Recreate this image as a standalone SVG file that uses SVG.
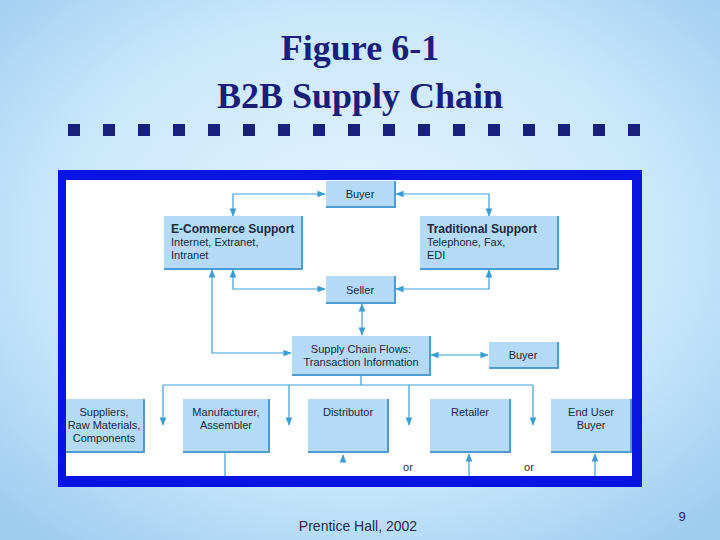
<svg xmlns="http://www.w3.org/2000/svg" width="720" height="540" viewBox="0 0 720 540">
<defs>
<radialGradient id="bg" cx="50%" cy="45%" r="70%"><stop offset="0" stop-color="#e4f4ff"/><stop offset="0.6" stop-color="#cbe8fb"/><stop offset="1" stop-color="#9fcdf0"/></radialGradient>
<marker id="ah" viewBox="0 0 10 10" refX="9" refY="5" markerWidth="7" markerHeight="7" orient="auto-start-reverse"><path d="M0,1 L10,5 L0,9 z" fill="#3a9ed4"/></marker>
<style>
.b{fill:#b5daf6;stroke:#5da4d6;stroke-width:0}
.sh{fill:none;stroke:#4f9bd0;stroke-width:2}
.t{font-family:"Liberation Sans",Arial,sans-serif;font-size:11px;fill:#1a2a40}
.tb{font-family:"Liberation Sans",Arial,sans-serif;font-size:12px;font-weight:bold;fill:#1a2a40}
.c{fill:none;stroke:#3a9ed4;stroke-width:1.2}
.sq{fill:#17207a}
</style>
</defs>
<rect width="720" height="540" fill="url(#bg)"/>
<g id="title" font-family="Liberation Serif,Times New Roman,serif" font-weight="bold" font-size="36" fill="#1a1f7a" text-anchor="middle">
<text x="360" y="60">Figure 6-1</text>
<text x="360" y="108">B2B Supply Chain</text>
</g>
<g id="squares">
<rect class="sq" x="68" y="124" width="12" height="12"/><rect class="sq" x="103" y="124" width="12" height="12"/><rect class="sq" x="138" y="124" width="12" height="12"/><rect class="sq" x="173" y="124" width="12" height="12"/><rect class="sq" x="208" y="124" width="12" height="12"/><rect class="sq" x="243" y="124" width="12" height="12"/><rect class="sq" x="278" y="124" width="12" height="12"/><rect class="sq" x="313" y="124" width="12" height="12"/><rect class="sq" x="348" y="124" width="12" height="12"/><rect class="sq" x="383" y="124" width="12" height="12"/><rect class="sq" x="418" y="124" width="12" height="12"/><rect class="sq" x="453" y="124" width="12" height="12"/><rect class="sq" x="488" y="124" width="12" height="12"/><rect class="sq" x="523" y="124" width="12" height="12"/><rect class="sq" x="558" y="124" width="12" height="12"/><rect class="sq" x="593" y="124" width="12" height="12"/><rect class="sq" x="628" y="124" width="12" height="12"/>
</g>
<rect x="58" y="170" width="584" height="317" fill="#0a14e0"/>
<rect x="66" y="180" width="566" height="296" fill="#ffffff"/>
<g id="connectors">
<path class="c" d="M233,216 V194 H325" marker-start="url(#ah)" marker-end="url(#ah)"/>
<path class="c" d="M396,194 H489 V216" marker-start="url(#ah)" marker-end="url(#ah)"/>
<path class="c" d="M233,270 V289 H325" marker-start="url(#ah)" marker-end="url(#ah)"/>
<path class="c" d="M396,289 H489 V270" marker-start="url(#ah)" marker-end="url(#ah)"/>
<path class="c" d="M362,304 V335" marker-start="url(#ah)" marker-end="url(#ah)"/>
<path class="c" d="M212,270 V353 H291" marker-start="url(#ah)" marker-end="url(#ah)"/>
<path class="c" d="M431,355 H488" marker-start="url(#ah)" marker-end="url(#ah)"/>
<path class="c" d="M361,376 V385 M163,385 H533"/>
<path class="c" d="M163,385 V425" marker-end="url(#ah)"/>
<path class="c" d="M289,385 V425" marker-end="url(#ah)"/>
<path class="c" d="M409,385 V425" marker-end="url(#ah)"/>
<path class="c" d="M533,385 V425" marker-end="url(#ah)"/>
<path class="c" d="M225,453 V476"/>
<path class="c" d="M343,462 V455" marker-end="url(#ah)"/>
<path class="c" d="M469,476 V454" marker-end="url(#ah)"/>
<path class="c" d="M595,476 V454" marker-end="url(#ah)"/>
<text class="t" x="408" y="471" text-anchor="middle">or</text>
<text class="t" x="529" y="471" text-anchor="middle">or</text>
</g>
<g id="buyer1"><rect class="b" x="326" y="181" width="69" height="26"/><path class="sh" d="M395,181 V207 H326"/><text class="t" x="360" y="198" text-anchor="middle">Buyer</text></g>
<g id="ecommerce"><rect class="b" x="164" y="216" width="138" height="53"/><path class="sh" d="M302,216 V269 H164"/><text class="tb" x="171" y="233">E-Commerce Support</text><text class="t" x="171" y="246">Internet, Extranet,</text><text class="t" x="171" y="259">Intranet</text></g>
<g id="traditional"><rect class="b" x="420" y="216" width="138" height="53"/><path class="sh" d="M558,216 V269 H420"/><text class="tb" x="427" y="233">Traditional Support</text><text class="t" x="427" y="246">Telephone, Fax,</text><text class="t" x="427" y="259">EDI</text></g>
<g id="seller"><rect class="b" x="326" y="276" width="69" height="27"/><path class="sh" d="M395,276 V303 H326"/><text class="t" x="360" y="294" text-anchor="middle">Seller</text></g>
<g id="scf"><rect class="b" x="292" y="336" width="138" height="39"/><path class="sh" d="M430,336 V375 H292"/><text class="t" x="361" y="353" text-anchor="middle">Supply Chain Flows:</text><text class="t" x="361" y="366" text-anchor="middle">Transaction Information</text></g>
<g id="buyer2"><rect class="b" x="489" y="342" width="69" height="26"/><path class="sh" d="M558,342 V368 H489"/><text class="t" x="523" y="359" text-anchor="middle">Buyer</text></g>
<g id="suppliers"><rect class="b" x="66" y="399" width="78" height="53"/><path class="sh" d="M144,399 V452 H66"/><text class="t" x="104" y="416" text-anchor="middle">Suppliers,</text><text class="t" x="104" y="429" text-anchor="middle">Raw Materials,</text><text class="t" x="104" y="442" text-anchor="middle">Components</text></g>
<g id="manufacturer"><rect class="b" x="183" y="399" width="86" height="53"/><path class="sh" d="M269,399 V452 H183"/><text class="t" x="226" y="416" text-anchor="middle">Manufacturer,</text><text class="t" x="226" y="429" text-anchor="middle">Assembler</text></g>
<g id="distributor"><rect class="b" x="308" y="399" width="80" height="53"/><path class="sh" d="M388,399 V452 H308"/><text class="t" x="348" y="416" text-anchor="middle">Distributor</text></g>
<g id="retailer"><rect class="b" x="430" y="399" width="80" height="53"/><path class="sh" d="M510,399 V452 H430"/><text class="t" x="470" y="416" text-anchor="middle">Retailer</text></g>
<g id="enduser"><rect class="b" x="551" y="399" width="80" height="53"/><path class="sh" d="M631,399 V452 H551"/><text class="t" x="591" y="416" text-anchor="middle">End User</text><text class="t" x="591" y="429" text-anchor="middle">Buyer</text></g>
<g id="footer" font-family="Liberation Sans,Arial,sans-serif" fill="#2a2a4a">
<text x="358" y="531" font-size="14" text-anchor="middle">Prentice Hall, 2002</text>
<text x="682" y="521" font-size="13" text-anchor="middle">9</text>
</g>
</svg>
